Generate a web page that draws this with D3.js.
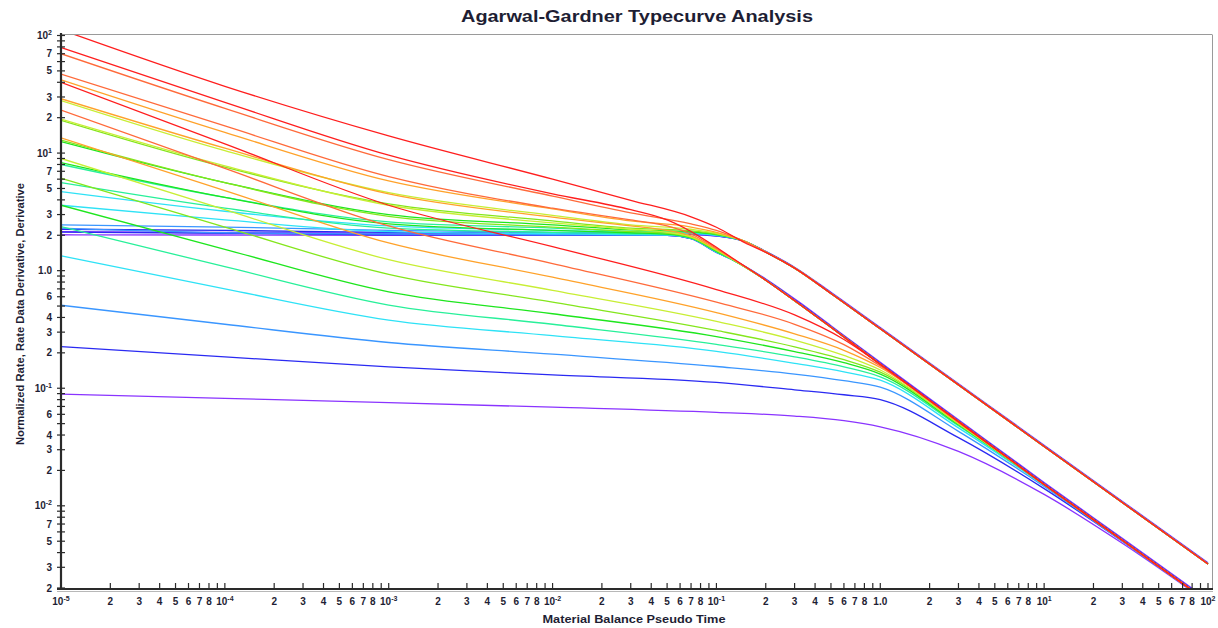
<!DOCTYPE html>
<html>
<head>
<meta charset="utf-8">
<script src="https://cdn.jsdelivr.net/npm/d3@7"></script>
<style>
  body { margin: 0; background: #ffffff; }
  svg { display: block; }
</style>
</head>
<body>
<svg id="chart" width="1218" height="628"></svg>
<script>
// ---- Typecurve data (dimensionless) ----
// Eleven stems per family, ordered from smallest to largest drainage ratio.
const stems = ["1", "2", "3", "4", "5", "6", "7", "8", "9", "10", "11"];

// Normalized rate stems
const rateTime = [1e-5, 1e-4, 1e-3, 1e-2, 0.1, 0.3, 0.6, 1, 3, 10, 30, 100];
const rateValues = [
  [40,   12,   3.6,   1.6,   0.69,   0.42,  0.26,  0.16,  0.052, 0.0152, 0.0051, 0.00153],
  [23.2, 7.4,  2.4,   1.15,  0.54,   0.35,  0.235, 0.155, 0.052, 0.0152, 0.0051, 0.00153],
  [13.5, 4.8,  1.72,  0.88,  0.44,   0.29,  0.21,  0.15,  0.051, 0.0152, 0.0051, 0.00153],
  [9.0,  3.3,  1.24,  0.68,  0.37,   0.257, 0.19,  0.143, 0.050, 0.0152, 0.0051, 0.00153],
  [6.1,  2.35, 0.93,  0.54,  0.31,   0.225, 0.175, 0.137, 0.050, 0.0152, 0.0051, 0.00153],
  [3.6,  1.52, 0.66,  0.43,  0.275,  0.205, 0.165, 0.132, 0.049, 0.0152, 0.0051, 0.00153],
  [2.37, 1.08, 0.51,  0.35,  0.236,  0.185, 0.152, 0.125, 0.048, 0.0151, 0.0051, 0.00153],
  [1.34, 0.70, 0.38,  0.28,  0.206,  0.163, 0.138, 0.117, 0.046, 0.0150, 0.0051, 0.00153],
  [0.508,0.35, 0.245, 0.195, 0.153,  0.132, 0.116, 0.102, 0.043, 0.0146, 0.0050, 0.00153],
  [0.226,0.185,0.152, 0.13,  0.112,  0.097, 0.088, 0.080, 0.038, 0.0140, 0.0050, 0.00152],
  [0.089,0.082,0.0755,0.069, 0.0623, 0.058, 0.053, 0.047, 0.029, 0.0125, 0.0048, 0.00150]
];

// Derivative stems bending onto the lower boundary-dominated line
const derTime = [1e-5, 1e-4, 1e-3, 1e-2, 0.03, 0.05, 0.07, 0.1, 0.125, 0.2, 0.32, 0.5, 1, 3, 10, 30, 100];
const derValues = [
  [79,   27,   9.6,  4.5,  3.3,  2.7,  2.15, 1.58, 1.28, 0.83, 0.52, 0.33, 0.16, 0.052, 0.0152, 0.0051, 0.00153],
  [47,   17,   6.3,  3.4,  2.7,  2.4,  2.05, 1.55, 1.27, 0.83, 0.52, 0.33, 0.16, 0.052, 0.0152, 0.0051, 0.00153],
  [29,   11,   4.5,  2.85, 2.4,  2.2,  1.98, 1.52, 1.26, 0.83, 0.52, 0.33, 0.16, 0.052, 0.0152, 0.0051, 0.00153],
  [19.5, 7.8,  3.6,  2.55, 2.25, 2.12, 1.94, 1.50, 1.25, 0.83, 0.52, 0.33, 0.16, 0.052, 0.0152, 0.0051, 0.00153],
  [12.9, 5.6,  2.9,  2.35, 2.15, 2.08, 1.92, 1.48, 1.25, 0.83, 0.52, 0.33, 0.16, 0.052, 0.0152, 0.0051, 0.00153],
  [8.3,  4.2,  2.5,  2.2,  2.1,  2.05, 1.90, 1.46, 1.24, 0.83, 0.52, 0.33, 0.16, 0.052, 0.0152, 0.0051, 0.00153],
  [5.6,  3.4,  2.3,  2.12, 2.06, 2.03, 1.89, 1.45, 1.24, 0.83, 0.52, 0.33, 0.16, 0.052, 0.0152, 0.0051, 0.00153],
  [3.6,  2.7,  2.15, 2.06, 2.03, 2.02, 1.88, 1.44, 1.24, 0.83, 0.52, 0.33, 0.16, 0.052, 0.0152, 0.0051, 0.00153],
  [2.3,  2.1,  2.05, 2.02, 2.01, 2.0,  1.88, 1.43, 1.24, 0.83, 0.52, 0.33, 0.16, 0.052, 0.0152, 0.0051, 0.00153],
  [2.13, 2.08, 2.02, 2.01, 2.0,  2.0,  1.87, 1.43, 1.24, 0.84, 0.53, 0.335, 0.163, 0.053, 0.0155, 0.0052, 0.00156],
  [2.02, 2.01, 2.0,  2.0,  2.0,  2.0,  1.87, 1.44, 1.25, 0.85, 0.54, 0.34, 0.166, 0.054, 0.0158, 0.0053, 0.00159]
];

// Derivative stems joining the upper boundary-dominated line
const upTime = [1e-5, 1e-4, 1e-3, 1e-2, 0.03, 0.07, 0.1, 0.15, 0.2, 0.3, 0.5, 1, 10, 100];
const upValues = [
  [112,  37,   14,   6.0,  3.97, 2.87, 2.34, 1.72, 1.43, 1.05, 0.64, 0.32, 0.032, 0.0032],
  [70,   24,   8.8,  4.3,  3.1,  2.5,  2.2,  1.76, 1.44, 1.05, 0.64, 0.32, 0.032, 0.0032],
  [42,   15,   5.8,  3.35, 2.65, 2.35, 2.12, 1.77, 1.44, 1.05, 0.64, 0.32, 0.032, 0.0032],
  [28,   10.5, 4.6,  2.95, 2.45, 2.25, 2.08, 1.77, 1.44, 1.05, 0.64, 0.32, 0.032, 0.0032],
  [19,   7.6,  3.7,  2.65, 2.3,  2.18, 2.05, 1.77, 1.44, 1.05, 0.64, 0.32, 0.032, 0.0032],
  [12.5, 5.6,  3.0,  2.45, 2.22, 2.14, 2.03, 1.77, 1.44, 1.05, 0.64, 0.32, 0.032, 0.0032],
  [8.0,  4.2,  2.6,  2.3,  2.16, 2.11, 2.02, 1.77, 1.44, 1.05, 0.64, 0.32, 0.032, 0.0032],
  [4.7,  3.2,  2.4,  2.2,  2.12, 2.08, 2.0,  1.77, 1.44, 1.05, 0.64, 0.32, 0.032, 0.0032],
  [2.45, 2.35, 2.2,  2.12, 2.08, 2.06, 1.99, 1.77, 1.44, 1.05, 0.64, 0.32, 0.032, 0.0032],
  [2.25, 2.2,  2.12, 2.08, 2.06, 2.04, 1.98, 1.77, 1.45, 1.06, 0.646, 0.323, 0.0323, 0.00323],
  [2.15, 2.12, 2.08, 2.05, 2.04, 2.03, 1.97, 1.77, 1.46, 1.07, 0.655, 0.328, 0.0328, 0.00328]
];

// Axis tick labels
const xDecades = [-5, -4, -3, -2, -1, 0, 1, 2];
const xLabelDigits = [2, 3, 4, 5, 6, 7, 8];
const yLabelValues = [100, 70, 50, 30, 20, 10, 7, 5, 3, 2, 1, 0.6, 0.4, 0.3, 0.2,
                      0.1, 0.06, 0.04, 0.03, 0.02, 0.01, 0.007, 0.005, 0.003, 0.002];

const titleText = "Agarwal-Gardner Typecurve Analysis";
const xTitleText = "Material Balance Pseudo Time";
const yTitleText = "Normalized Rate, Rate Data Derivative, Derivative";

// ---- Styling ----
const palette = ["#ff1e1e", "#ff6a3a", "#ffa22a", "#c8ee34", "#84e61c", "#1ee61e",
                 "#28f09a", "#2ee2f6", "#3a96ff", "#2a2af2", "#8a34ff"];
const labelFont = "'Liberation Sans', Arial, sans-serif";
const inkColor = "#1e1e34";

const svg = d3.select("#chart");
const W = 1218, H = 628;
const plot = { left: 61, right: 1208, top: 35.5, bottom: 588, frameRight: 1212, frameBottom: 589 };

const x = d3.scaleLog().domain([1e-5, 100]).range([plot.left, plot.right]);
const y = d3.scaleLog().domain([0.002, 100]).range([plot.bottom, plot.top]);

svg.append("rect").attr("width", W).attr("height", H).attr("fill", "#ffffff");

// Plot clip
svg.append("defs").append("clipPath").attr("id", "plotClip")
  .append("rect")
  .attr("x", plot.left).attr("y", plot.top - 0.5)
  .attr("width", plot.frameRight - plot.left).attr("height", plot.frameBottom - plot.top + 0.5);

// Frame (top and right)
svg.append("line").attr("x1", plot.left).attr("x2", plot.frameRight)
  .attr("y1", 34.5).attr("y2", 34.5).attr("stroke", "#9a9a9a").attr("stroke-width", 1);
svg.append("line").attr("x1", plot.frameRight + 0.5).attr("x2", plot.frameRight + 0.5)
  .attr("y1", 34.5).attr("y2", plot.frameBottom).attr("stroke", "#9a9a9a").attr("stroke-width", 1);

// Curves
const curves = svg.append("g").attr("clip-path", "url(#plotClip)");
const line = d3.line()
  .x(d => x(d[0]))
  .y(d => y(d[1]))
  .curve(d3.curveMonotoneX);

const families = [
  { t: rateTime, v: rateValues },
  { t: derTime, v: derValues },
  { t: upTime, v: upValues }
];

for (let i = stems.length - 1; i >= 0; i--) {
  families.forEach(f => {
    const pts = f.t.map((t, j) => [t, f.v[i][j]]);
    curves.append("path")
      .attr("d", line(pts))
      .attr("fill", "none")
      .attr("stroke", palette[i])
      .attr("stroke-width", 1.3)
      .attr("stroke-linejoin", "round");
  });
}

// Axes lines
const axisG = svg.append("g");
axisG.append("line").attr("x1", plot.left).attr("x2", plot.left)
  .attr("y1", 33).attr("y2", plot.frameBottom + 1)
  .attr("stroke", "#2a2a2a").attr("stroke-width", 2.2);
axisG.append("line").attr("x1", 57).attr("x2", plot.frameRight + 1)
  .attr("y1", plot.frameBottom).attr("y2", plot.frameBottom)
  .attr("stroke", "#2a2a2a").attr("stroke-width", 2.2);
axisG.append("line").attr("x1", 57).attr("x2", plot.frameRight + 1)
  .attr("y1", plot.frameBottom + 2.5).attr("y2", plot.frameBottom + 2.5)
  .attr("stroke", "#b8b8b8").attr("stroke-width", 1);

// Tick label helper with superscript exponents
function powLabel(sel, v) {
  const e = Math.round(Math.log10(v));
  if (Math.abs(v - Math.pow(10, e)) / v < 1e-9) {
    if (e === 0) { sel.text("1.0"); return; }
    sel.text("10");
    sel.append("tspan").attr("font-size", 7).attr("dy", -4).text(String(e));
  } else {
    sel.text(String(Math.round(v / Math.pow(10, Math.floor(Math.log10(v) + 1e-9)))));
  }
}

// Y ticks
const yTicks = [];
for (let e = -3; e <= 2; e++) {
  for (let m = 1; m <= 9; m++) {
    const v = m * Math.pow(10, e);
    if (v >= 0.002 - 1e-12 && v <= 100 + 1e-9) yTicks.push(v);
  }
}
yTicks.forEach(v => {
  axisG.append("line")
    .attr("x1", plot.left - 4).attr("x2", plot.left + 4)
    .attr("y1", y(v)).attr("y2", y(v))
    .attr("stroke", "#2a2a2a").attr("stroke-width", 1.2);
});
yLabelValues.forEach(v => {
  const t = axisG.append("text")
    .attr("x", 52).attr("y", y(v) + 3.6)
    .attr("text-anchor", "end")
    .attr("font-family", labelFont).attr("font-weight", "bold")
    .attr("font-size", 10).attr("fill", inkColor);
  powLabel(t, v);
});

// X ticks
xDecades.forEach(e => {
  const base = Math.pow(10, e);
  const mults = e === 2 ? [1] : [1, 2, 3, 4, 5, 6, 7, 8, 9];
  mults.forEach(m => {
    const v = m * base;
    axisG.append("line")
      .attr("x1", x(v)).attr("x2", x(v))
      .attr("y1", plot.frameBottom).attr("y2", plot.frameBottom - 6)
      .attr("stroke", "#2a2a2a").attr("stroke-width", 1.2);
  });
  const t0 = axisG.append("text")
    .attr("x", x(base)).attr("y", 605)
    .attr("text-anchor", "middle")
    .attr("font-family", labelFont).attr("font-weight", "bold")
    .attr("font-size", 10).attr("fill", inkColor);
  powLabel(t0, base);
  if (e < 2) {
    xLabelDigits.forEach(m => {
      axisG.append("text")
        .attr("x", x(m * base)).attr("y", 605)
        .attr("text-anchor", "middle")
        .attr("font-family", labelFont).attr("font-weight", "bold")
        .attr("font-size", 10).attr("fill", inkColor)
        .text(m);
    });
  }
});

// Titles
svg.append("text")
  .attr("x", 637).attr("y", 22)
  .attr("text-anchor", "middle")
  .attr("font-family", labelFont).attr("font-weight", "bold")
  .attr("font-size", 16.5).attr("fill", inkColor)
  .attr("textLength", 352).attr("lengthAdjust", "spacingAndGlyphs")
  .text(titleText);

svg.append("text")
  .attr("x", 634).attr("y", 623)
  .attr("text-anchor", "middle")
  .attr("font-family", labelFont).attr("font-weight", "bold")
  .attr("font-size", 10.5).attr("fill", inkColor)
  .attr("textLength", 183).attr("lengthAdjust", "spacingAndGlyphs")
  .text(xTitleText);

svg.append("text")
  .attr("transform", "translate(24,314) rotate(-90)")
  .attr("text-anchor", "middle")
  .attr("font-family", labelFont).attr("font-weight", "bold")
  .attr("font-size", 10).attr("fill", inkColor)
  .attr("textLength", 262).attr("lengthAdjust", "spacingAndGlyphs")
  .text(yTitleText);
</script>
</body>
</html>
